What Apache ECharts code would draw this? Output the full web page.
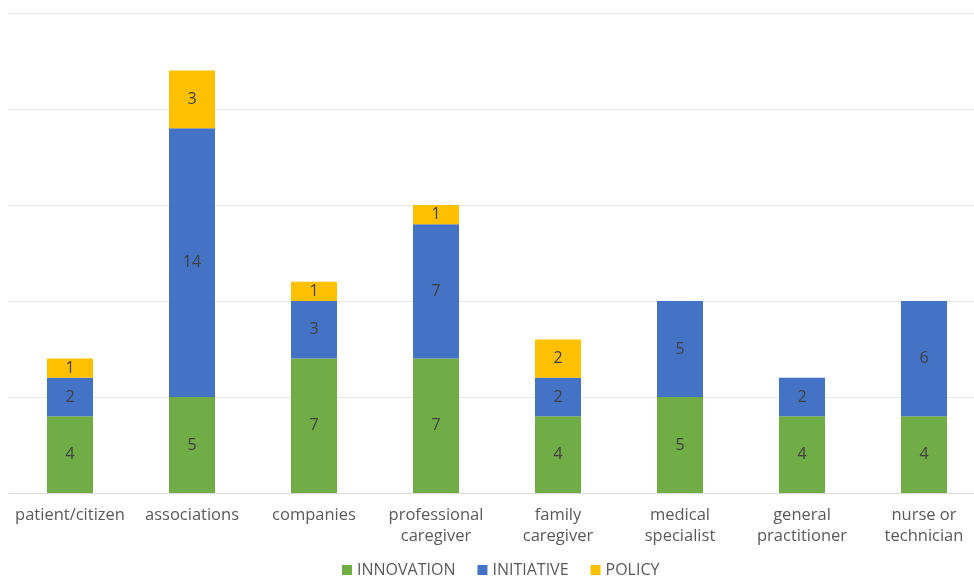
<!DOCTYPE html>
<html>
<head>
<meta charset="utf-8">
<script src="https://cdn.jsdelivr.net/npm/echarts@6/dist/echarts.min.js"></script>
<style>
  html, body { margin: 0; padding: 0; background: #fff; overflow: hidden; }
  #chart { width: 990px; height: 578px; }
</style>
</head>
<body>
<div id="chart"></div>
<script>
// Stakeholder categories (axis labels)
const categories = [
  'patient/citizen', 'associations', 'companies', 'professional\ncaregiver',
  'family\ncaregiver', 'medical\nspecialist', 'general\npractitioner', 'nurse or\ntechnician'
];
// Counts per stakeholder for each type
const innovation = [4, 5, 7, 7, 4, 5, 4, 4];
const initiative = [2, 14, 3, 7, 2, 5, 2, 6];
const policy     = [1, 3, 1, 1, 2, 0, 0, 0];
const seriesNames = ['INNOVATION', 'INITIATIVE', 'POLICY'];

const colors = ['#70AD47', '#4472C4', '#FFC000'];
const font = '"Open Sans", "Liberation Sans", sans-serif';

function barSeries(name, data, color) {
  return {
    name: name,
    type: 'bar',
    stack: 'total',
    data: data,
    barWidth: 46,
    itemStyle: { color: color },
    label: {
      show: true,
      position: 'inside',
      color: '#404040',
      fontSize: 16,
      fontFamily: font,
      formatter: p => (p.value ? String(p.value) : '')
    },
    emphasis: { disabled: true }
  };
}

const chart = echarts.init(document.getElementById('chart'));
chart.setOption({
  animation: false,
  backgroundColor: '#ffffff',
  grid: { left: 9, top: 13, width: 976, bottom: 85, containLabel: false },
  legend: {
    data: seriesNames,
    left: 337,
    top: 557,
    itemWidth: 10,
    itemHeight: 10,
    itemGap: 22,
    icon: 'rect',
    textStyle: { color: '#595959', fontSize: 16, fontFamily: font }
  },
  xAxis: {
    type: 'category',
    data: categories,
    axisTick: { show: false },
    axisLine: { lineStyle: { color: '#d9d9d9', width: 1 } },
    axisLabel: {
      color: '#595959',
      fontSize: 16.5,
      fontFamily: font,
      lineHeight: 21,
      margin: 12,
      interval: 0
    }
  },
  yAxis: {
    type: 'value',
    min: 0,
    max: 25,
    interval: 5,
    axisLabel: { show: false },
    axisLine: { show: false },
    axisTick: { show: false },
    splitLine: { lineStyle: { color: '#e6e6e6', width: 1 } }
  },
  series: [
    barSeries(seriesNames[0], innovation, colors[0]),
    barSeries(seriesNames[1], initiative, colors[1]),
    barSeries(seriesNames[2], policy, colors[2])
  ]
});
</script>
</body>
</html>
